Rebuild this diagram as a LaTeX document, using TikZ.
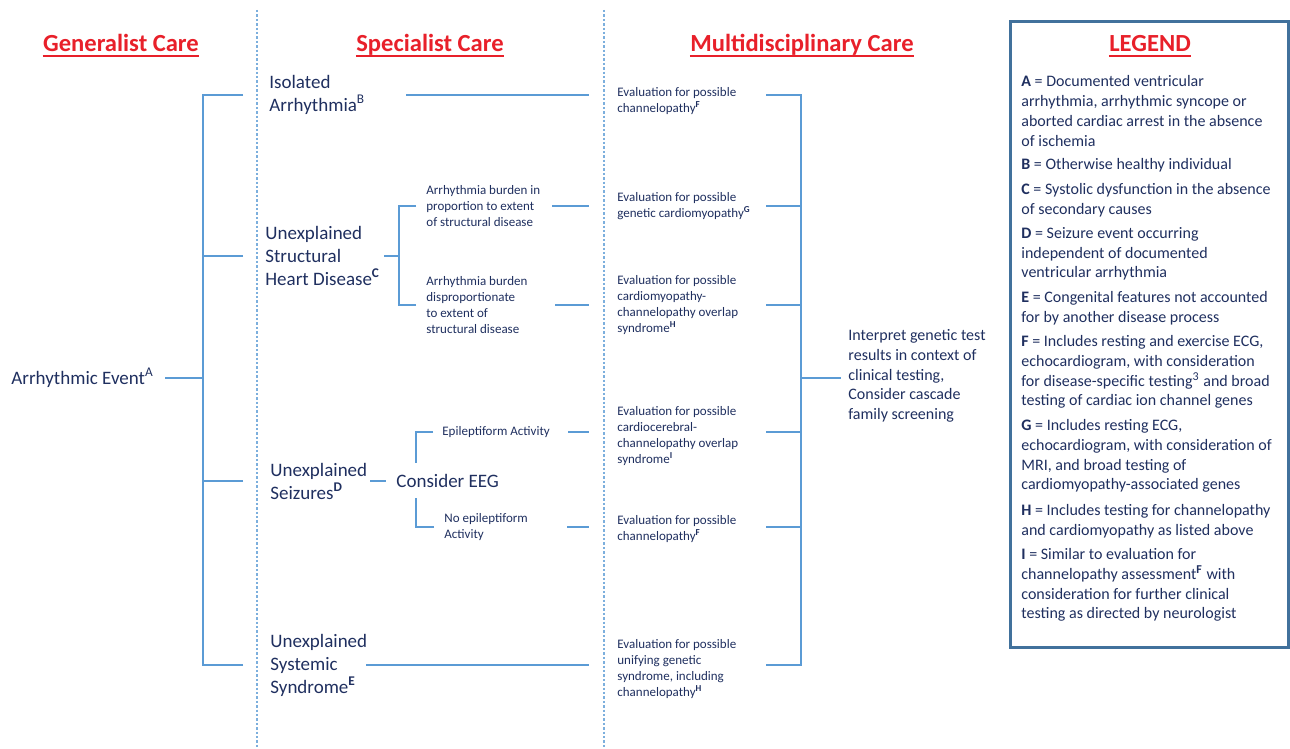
\documentclass[tikz,border=0pt]{standalone}
\usepackage{fontspec}
\setmainfont{Carlito}
\usetikzlibrary{positioning,calc}
\definecolor{CareNavy}{HTML}{1F2F5F}
\definecolor{CareLine}{HTML}{5B9BD5}
\definecolor{CareRed}{HTML}{E8202A}
\definecolor{CareFrame}{HTML}{41719C}

\begin{document}
\begin{tikzpicture}[
  x=0.5pt, y=-0.5pt,
  head/.style={inner sep=0pt, anchor=base, text=CareRed, font=\bfseries\fontsize{12.3}{14}\selectfont},
  main/.style={anchor=west, inner sep=0pt, align=left, text=CareNavy, font=\fontsize{9.5}{11.5}\selectfont},
  small/.style={anchor=west, inner sep=0pt, align=left, text=CareNavy, font=\fontsize{6.5}{8.15}\selectfont},
  legend/.style={anchor=west, inner sep=0pt, align=left, text=CareNavy, font=\fontsize{8}{9.85}\selectfont},
  link/.style={draw=CareLine, line width=1pt},
  divider/.style={draw=CareLine!80, line width=0.6pt, dash pattern=on 1.2pt off 1pt}
]
\useasboundingbox (0,0) rectangle (1290,749);
\draw[divider] (257,10) -- (257,749);
\draw[divider] (604,10) -- (604,749);
\draw[draw=CareFrame, line width=1.5pt] (1010,22) rectangle (1288,647);

\node[head] (gen) at (121,52) {Generalist Care};
\node[head] (spec) at (430,52) {Specialist Care};
\node[head] (multi) at (802,52) {Multidisciplinary Care};
\node[head] (leg) at (1150,52) {LEGEND};
\foreach \t in {gen,spec,multi,leg}
  \draw[CareRed, line width=1pt] ($(\t.base west)+(0,4)$) -- ($(\t.base east)+(0,4)$);

\node[main] (event) at (11,378) {Arrhythmic Event\textsuperscript{A}};
\node[main] (iso) at (269,95) {Isolated\\Arrhythmia\textsuperscript{B}};
\node[main] (struct) at (265,256) {Unexplained\\Structural\\Heart Disease\textsuperscript{\textbf{C}}};
\node[main] (seiz) at (270,481) {Unexplained\\Seizures\textsuperscript{\textbf{D}}};
\node[main] (eeg) at (396,481) {Consider EEG};
\node[main] (syst) at (270,665) {Unexplained\\Systemic\\Syndrome\textsuperscript{\textbf{E}}};

\node[small] (prop) at (426,206) {Arrhythmia burden in\\proportion to extent\\of structural disease};
\node[small] (disp) at (426,305) {Arrhythmia burden\\disproportionate\\to extent of\\structural disease};
\node[small] (epi) at (442,432) {Epileptiform Activity};
\node[small] (noepi) at (444,527) {No epileptiform\\Activity};

\node[small] (ev1) at (617,101) {Evaluation for possible\\channelopathy\textsuperscript{\textbf{F}}};
\node[small] (ev2) at (617,206) {Evaluation for possible\\genetic cardiomyopathy\textsuperscript{\textbf{G}}};
\node[small] (ev3) at (617,305) {Evaluation for possible\\cardiomyopathy-\\channelopathy overlap\\syndrome\textsuperscript{\textbf{H}}};
\node[small] (ev4) at (617,436) {Evaluation for possible\\cardiocerebral-\\channelopathy overlap\\syndrome\textsuperscript{\textbf{I}}};
\node[small] (ev5) at (617,529) {Evaluation for possible\\channelopathy\textsuperscript{\textbf{F}}};
\node[small] (ev6) at (617,669) {Evaluation for possible\\unifying genetic\\syndrome, including\\channelopathy\textsuperscript{\textbf{H}}};
\node[legend] (interp) at (848,376) {Interpret genetic test\\results in context of\\clinical testing,\\Consider cascade\\family screening};

\node[legend] (legA) at (1021,111) {\textbf{A} = Documented ventricular\\arrhythmia, arrhythmic syncope or\\aborted cardiac arrest in the absence\\of ischemia};
\node[legend] (legB) at (1021,165) {\textbf{B} = Otherwise healthy individual};
\node[legend] (legC) at (1021,200) {\textbf{C} = Systolic dysfunction in the absence\\of secondary causes};
\node[legend] (legD) at (1021,254) {\textbf{D} = Seizure event occurring\\independent of documented\\ventricular arrhythmia};
\node[legend] (legE) at (1021,308) {\textbf{E} = Congenital features not accounted\\for by another disease process};
\node[legend] (legF) at (1021,372) {\textbf{F} = Includes resting and exercise ECG,\\echocardiogram, with consideration\\for disease-specific testing\textsuperscript{3} and broad\\testing of cardiac ion channel genes};
\node[legend] (legG) at (1021,456) {\textbf{G} = Includes resting ECG,\\echocardiogram, with consideration of\\MRI, and broad testing of\\cardiomyopathy-associated genes};
\node[legend] (legH) at (1021,521) {\textbf{H} = Includes testing for channelopathy\\and cardiomyopathy as listed above};
\node[legend] (legI) at (1021,585) {\textbf{I} = Similar to evaluation for\\channelopathy assessment\textsuperscript{\textbf{F}} with\\consideration for further clinical\\testing as directed by neurologist};

\coordinate (lspine) at (203,378);
\coordinate (rspine) at (801,378);
\coordinate (sfork) at (399,256);

\draw[link] ($(event.west)+(154,0)$) -- (lspine);
\foreach \n/\d in {iso/26,struct/22,seiz/27,syst/27}
  \draw[link] ($(\n.west)+(-\d,0)$) -| (lspine);
\draw[link] ($(struct.west)+(119,0)$) -- (sfork);
\draw[link] ($(prop.west)+(-10,0)$) -| (sfork);
\draw[link] ($(disp.west)+(-10,0)$) -| (sfork);
\draw[link] ($(seiz.west)+(100,0)$) -- ($(eeg.west)+(-10,0)$);
\draw[link] ($(epi.west)+(-9,0)$) -| ($(eeg.west)+(20,-18)$);
\draw[link] ($(noepi.west)+(-10,0)$) -| ($(eeg.west)+(20,17)$);
\foreach \a/\s/\b in {iso/137/ev1, prop/126/ev2, disp/129/ev3, epi/126/ev4, noepi/123/ev5, syst/96/ev6}{
  \draw[link] ($(\a.west)+(\s,0)$) -- ($(\a.west -| \b.west)+(-28,0)$);
  \draw[link] ($(\a.west -| \b.west)+(149,0)$) -| (rspine);
}
\draw[link] (rspine) -- ($(rspine -| interp.west)+(-7,0)$);
\end{tikzpicture}
\end{document}
